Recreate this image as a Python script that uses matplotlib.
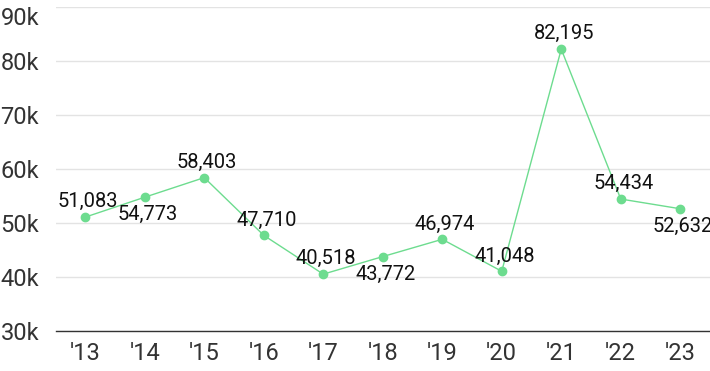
import matplotlib
matplotlib.use("Agg")
import matplotlib.pyplot as plt

years = ["'13", "'14", "'15", "'16", "'17", "'18", "'19", "'20", "'21", "'22", "'23"]
values = [51083, 54773, 58403, 47710, 40518, 43772, 46974, 41048, 82195, 54434, 52632]
label_pos = ["above", "below", "above", "above", "above", "below", "above", "above", "above", "above", "below"]
yticks = [30000, 40000, 50000, 60000, 70000, 80000, 90000]

plt.rcParams['font.family'] = ['Roboto', 'DejaVu Sans']

fig = plt.figure(figsize=(7.1, 3.71), dpi=100)
ax = fig.add_axes([0.079, 0.108, 0.921, 0.873])

x = list(range(len(years)))
color = "#6ddc8f"
ax.plot(x, values, color=color, linewidth=1, marker="o", markersize=6, zorder=3)

for xi, v, pos in zip(x, values, label_pos):
    dy = 11 if pos == "above" else -12.5
    ax.annotate(f"{v:,}", (xi, v), xytext=(2, dy), textcoords="offset points",
                ha="center", va="center", fontsize=14.5, color="#111111", zorder=4)

ax.set_xlim(-0.49, 10.5)
ax.set_ylim(30000, 90000)
ax.set_yticks(yticks)
ax.set_yticklabels([f"{t//1000}k" for t in yticks])
ax.set_xticks(x)
ax.set_xticklabels(years)
ax.tick_params(axis="both", length=0, labelsize=17, colors="#333333")
ax.tick_params(axis="x", pad=8)
ax.tick_params(axis="y", pad=40)
ylabels = ax.get_yticklabels()
for lab in ylabels:
    lab.set_horizontalalignment("left")
ylabels[-1].set_verticalalignment("top")

ax.grid(axis="y", color="#e3e3e3", linewidth=1)
ax.set_axisbelow(True)
for s in ["top", "right", "left"]:
    ax.spines[s].set_visible(False)
ax.spines["bottom"].set_color("#333333")
ax.spines["bottom"].set_linewidth(1)

fig.savefig("out.png", dpi=100)
